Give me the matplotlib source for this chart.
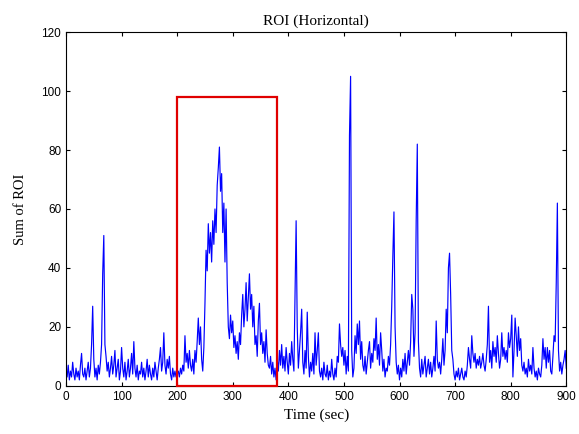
import numpy as np
import matplotlib
matplotlib.use("Agg")
import matplotlib.pyplot as plt
from matplotlib.patches import Rectangle

t = np.arange(0, 901, 2)

roi = [
    6, 3, 7, 2, 5, 3, 8, 4, 2, 6, 3, 5, 2, 7, 11, 4, 3, 6, 2, 5, 8, 3, 6, 14, 27,
    9, 3, 6, 2, 7, 4, 8, 14, 38, 51, 14, 10, 5, 8, 3, 6, 10, 4, 7, 12, 3, 6, 9, 2, 5,
    13, 6, 3, 8, 2, 5, 9, 3, 6, 11, 4, 15, 6, 3, 7, 2, 5, 4, 8, 3, 6, 2, 5, 9, 3,
    7, 4, 2, 6, 3, 8, 5, 2, 6, 9, 13, 5, 8, 18, 7, 4, 9, 6, 10, 4, 2, 6, 3, 5, 3,
    4, 5, 3, 6, 4, 7, 5, 17, 8, 11, 6, 12, 7, 5, 9, 4, 12, 8, 15, 23, 14, 20, 9, 5, 13,
    28, 46, 39, 55, 45, 52, 42, 56, 48, 60, 52, 68, 74, 81, 66, 72, 52, 62, 42, 60, 35, 20, 16, 24, 18,
    22, 13, 17, 11, 15, 9, 18, 14, 24, 31, 20, 26, 35, 22, 30, 38, 26, 31, 20, 27, 14, 17, 10, 22, 28,
    14, 18, 11, 15, 8, 19, 11, 7, 6, 10, 4, 8, 3, 6, 2, 9, 5, 12, 7, 14, 6, 10, 5, 13, 8,
    4, 11, 7, 15, 9, 5, 30, 56, 20, 6, 12, 18, 26, 8, 4, 12, 6, 25, 10, 3, 8, 5, 11, 4, 18,
    7, 12, 18, 5, 3, 6, 2, 8, 4, 3, 7, 2, 5, 3, 9, 4, 2, 6, 3, 10, 8, 21, 14, 10, 13,
    7, 12, 4, 10, 5, 85, 105, 12, 3, 6, 17, 11, 21, 14, 22, 9, 15, 7, 5, 10, 4, 8, 12, 15, 6,
    11, 8, 16, 12, 23, 9, 14, 7, 18, 12, 5, 9, 3, 6, 5, 10, 7, 14, 27, 44, 59, 20, 8, 4, 7,
    2, 6, 3, 9, 5, 11, 4, 8, 12, 7, 15, 31, 26, 10, 18, 56, 82, 15, 6, 3, 9, 4, 7, 10, 3,
    6, 9, 4, 8, 3, 6, 10, 5, 22, 9, 6, 8, 4, 9, 16, 7, 12, 26, 18, 40, 45, 31, 12, 9, 4,
    2, 5, 3, 6, 2, 4, 6, 3, 2, 5, 3, 7, 13, 9, 6, 17, 11, 8, 11, 6, 9, 7, 10, 6, 8,
    11, 7, 5, 9, 14, 27, 8, 12, 6, 15, 10, 13, 8, 17, 11, 6, 9, 18, 10, 13, 9, 12, 8, 18, 13,
    16, 24, 3, 12, 23, 17, 10, 20, 12, 16, 7, 5, 8, 4, 6, 3, 9, 5, 7, 4, 13, 6, 3, 5, 2,
    6, 4, 3, 7, 16, 9, 13, 6, 13, 8, 12, 5, 4, 10, 17, 15, 35, 62, 12, 5, 8, 4, 7, 9, 12,
    6,
]

box_t0, box_t1, box_top = 200, 380, 98

fig = plt.figure(figsize=(5.79, 4.34), dpi=100)
ax = fig.add_axes([0.114, 0.111, 0.864, 0.815])

ax.plot(t, roi, color='#0000ff', lw=0.85)
ax.add_patch(Rectangle((box_t0, 0), box_t1 - box_t0, box_top, fill=False,
                       edgecolor='#e00000', lw=1.6, clip_on=False, zorder=5))

ax.set_xlim(0, 900)
ax.set_ylim(0, 120)
ax.set_xticks(np.arange(0, 901, 100))
ax.set_yticks(np.arange(0, 121, 20))
ax.tick_params(direction='in', top=True, right=True, length=3, labelsize=8.5)
for lab in ax.get_xticklabels() + ax.get_yticklabels():
    lab.set_family('Liberation Sans')

ax.set_title('ROI (Horizontal)', fontsize=11, family='Liberation Serif', pad=5)
ax.set_xlabel('Time (sec)', fontsize=11, family='Liberation Serif')
ax.set_ylabel('Sum of ROI', fontsize=10.5, family='Liberation Serif', labelpad=10)

fig.savefig('out.png', dpi=100)
